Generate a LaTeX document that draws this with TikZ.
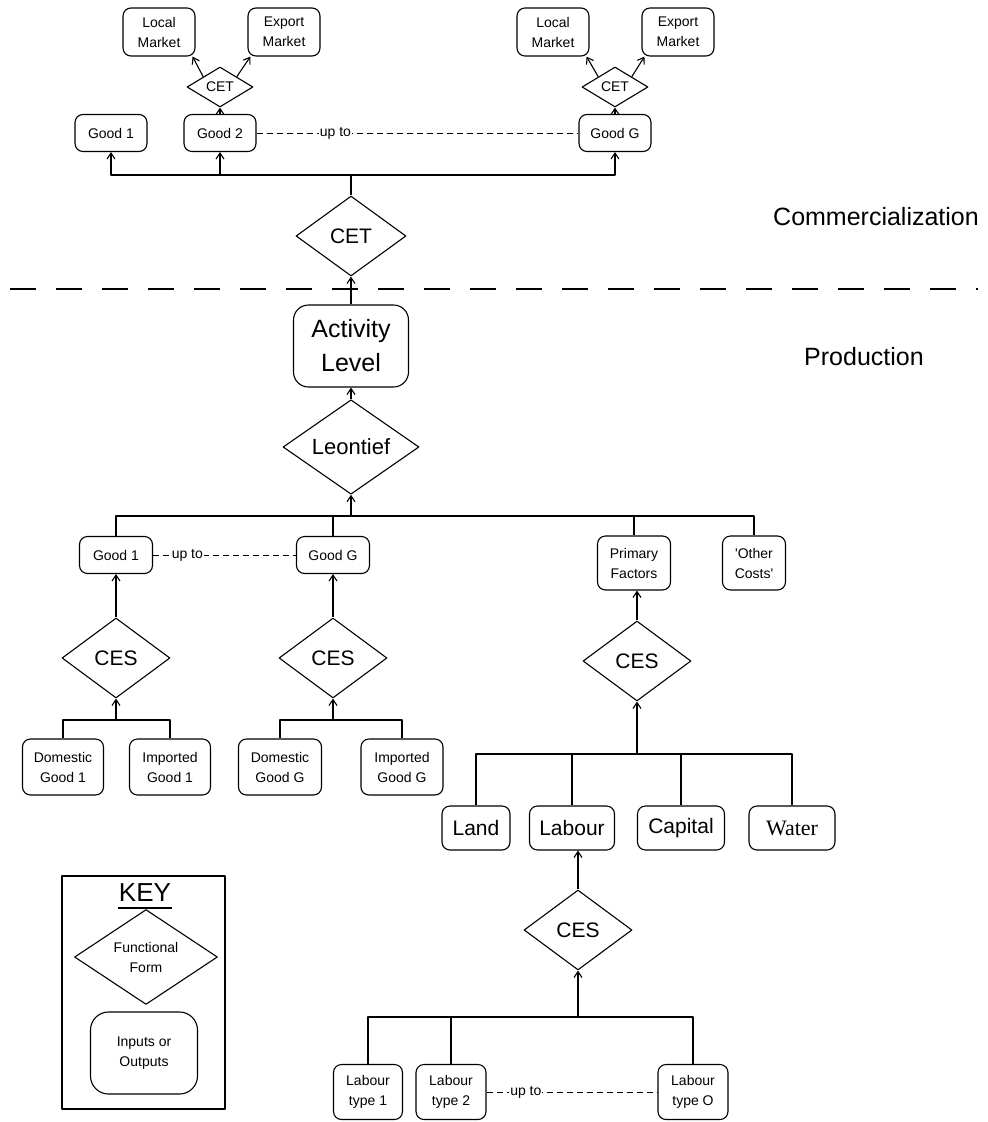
\documentclass[tikz,border=0pt]{standalone}
\usepackage{fontspec}
\setmainfont{Liberation Sans}
\newfontfamily\waterfont{Liberation Serif}
\usetikzlibrary{shapes.geometric,arrows.meta}

\begin{document}
\begin{tikzpicture}[x=1pt, y=-1pt, >={Straight Barb[length=6pt,width=8pt]},
                    line width=1.1pt, line join=round,
  box/.style={draw, rounded corners=8pt, align=center, inner sep=0pt,
              font=\fontsize{14}{20}\selectfont},
  form/.style={draw, diamond, align=center, inner sep=0pt,
               font=\fontsize{21}{24}\selectfont},
  bigfont/.style={font=\fontsize{21}{24}\selectfont},
  upto/.style={dash pattern=on 6pt off 4pt, line width=1pt},
  uptolabel/.style={fill=white, inner sep=1pt, font=\fontsize{14}{16}\selectfont}]
  \useasboundingbox (0,0) rectangle (988,1122);

  % Commercialization: goods and their markets
  \node[box, minimum width=72pt, minimum height=48pt] (lmA) at (159,32) {Local\\Market};
  \node[box, minimum width=72pt, minimum height=48pt] (emA) at (284,32) {Export\\Market};
  \node[box, minimum width=72pt, minimum height=48pt] (lmB) at (553,32) {Local\\Market};
  \node[box, minimum width=72pt, minimum height=48pt] (emB) at (678,32) {Export\\Market};
  \node[form, font=\fontsize{14}{16}\selectfont, minimum width=66pt, minimum height=40pt] (cetA) at (220,87) {CET};
  \node[form, font=\fontsize{14}{16}\selectfont, minimum width=66pt, minimum height=40pt] (cetB) at (615,87) {CET};
  \node[box, minimum width=72pt, minimum height=37pt] (gA1) at (111,133) {Good 1};
  \node[box, minimum width=72pt, minimum height=37pt] (gA2) at (220,133) {Good 2};
  \node[box, minimum width=72pt, minimum height=37pt] (gAG) at (615,133) {Good G};
  \node[form, minimum width=110pt, minimum height=80pt] (cet) at (351,236) {CET};

  \draw[->] (gA2) -- (cetA);
  \draw[->] (gAG) -- (cetB);
  \draw[->] (cetA.north west) -- ([xshift=-3pt]lmA.south east);
  \draw[->] (cetA.north east) -- ([xshift=3pt]emA.south west);
  \draw[->] (cetB.north west) -- ([xshift=-3pt]lmB.south east);
  \draw[->] (cetB.north east) -- ([xshift=3pt]emB.south west);

  \coordinate (busA) at (351,175);
  \draw (cet) -- (busA);
  \foreach \g in {gA1, gA2, gAG} \draw[->] (busA) -| (\g);
  \draw[upto] (gA2) -- node[uptolabel, pos=0.245] (uptoA) {up to} (gAG);

  % Section split
  \draw[dash pattern=on 26pt off 20pt] (10,289) -- (978,289);
  \node[font=\fontsize{25}{28}\selectfont] (comm) at (876,217) {Commercialization};
  \node[font=\fontsize{25}{28}\selectfont] (prod) at (864,357) {Production};

  % Production: top nest
  \node[box, rounded corners=15pt, font=\fontsize{25}{34}\selectfont,
        minimum width=115pt, minimum height=82pt] (act) at (351,346) {Activity\\Level};
  \node[form, font=\fontsize{22}{24}\selectfont, minimum width=136pt, minimum height=92pt] (leon) at (351,447) {Leontief};
  \draw[->] (act) -- (cet);
  \draw[->] (leon) -- (act);

  \node[box, minimum width=73pt, minimum height=37pt] (gB1) at (116,555) {Good 1};
  \node[box, minimum width=73pt, minimum height=37pt] (gBG) at (333,555) {Good G};
  \node[box, minimum width=73pt, minimum height=54pt] (pf) at (634,563) {Primary\\Factors};
  \node[box, minimum width=63pt, minimum height=54pt] (oc) at (754,563) {\textquotesingle Other\\Costs\textquotesingle};

  \coordinate (busB) at (351,516);
  \foreach \g in {gB1, gBG, pf, oc} \draw (\g) |- (busB);
  \draw[->] (busB) -- (leon);
  \draw[upto] (gB1) -- node[uptolabel, pos=0.24] (uptoB) {up to} (gBG);

  % Armington nests
  \node[form, minimum width=108pt, minimum height=80pt] (cesL) at (116,658) {CES};
  \node[form, minimum width=108pt, minimum height=80pt] (cesM) at (333,658) {CES};
  \node[form, minimum width=108pt, minimum height=80pt] (cesR) at (637,661) {CES};
  \draw[->] (cesL) -- (gB1);
  \draw[->] (cesM) -- (gBG);
  \draw[->] (cesR.north) -- (cesR.north |- pf.south);

  \node[box, minimum width=81pt, minimum height=56pt] (dg1) at (63,767) {Domestic\\Good 1};
  \node[box, minimum width=81pt, minimum height=56pt] (ig1) at (170,767) {Imported\\Good 1};
  \node[box, minimum width=83pt, minimum height=56pt] (dgG) at (280,767) {Domestic\\Good G};
  \node[box, minimum width=82pt, minimum height=56pt] (igG) at (402,767) {Imported\\Good G};

  \coordinate (busL) at (116,720);
  \coordinate (busM) at (333,720);
  \foreach \g in {dg1, ig1} \draw (\g) |- (busL);
  \foreach \g in {dgG, igG} \draw (\g) |- (busM);
  \draw[->] (busL) -- (cesL);
  \draw[->] (busM) -- (cesM);

  % Primary factors
  \node[box, bigfont, minimum width=68pt, minimum height=44pt] (land) at (476,828) {Land};
  \node[box, bigfont, minimum width=85pt, minimum height=44pt] (lab) at (572,828) {Labour};
  \node[box, bigfont, minimum width=87pt, minimum height=44pt] (cap) at (681,828) {Capital};
  \node[box, font=\waterfont\fontsize{22}{24}\selectfont,
        minimum width=86pt, minimum height=44pt] (wat) at (792,828) {Water};

  \coordinate (busR) at (637,754);
  \foreach \g in {land, lab, cap, wat} \draw (\g) |- (busR);
  \draw[->] (busR) -- (cesR);

  % Labour types
  \node[form, minimum width=108pt, minimum height=80pt] (cesB) at (578,930) {CES};
  \draw[->] (cesB.north) -- (cesB.north |- lab.south);

  \node[box, minimum width=69pt, minimum height=55pt] (lt1) at (368,1092) {Labour\\type 1};
  \node[box, minimum width=70pt, minimum height=55pt] (lt2) at (451,1092) {Labour\\type 2};
  \node[box, minimum width=70pt, minimum height=55pt] (ltO) at (693,1092) {Labour\\type O};

  \coordinate (busO) at (578,1017);
  \foreach \g in {lt1, lt2, ltO} \draw (\g) |- (busO);
  \draw[->] (busO) -- (cesB);
  \draw[upto] (lt2) -- node[uptolabel, pos=0.23] (uptoO) {up to} (ltO);

  % Key
  \node[draw, minimum width=163pt, minimum height=233pt] (key) at (143.5,992.5) {};
  \node[font=\fontsize{26}{28}\selectfont, inner sep=0pt] (keyttl) at (145,893) {KEY};
  \draw[line width=1.8pt] ([yshift=-6pt]keyttl.base west) -- ([yshift=-6pt]keyttl.base east);
  \node[form, font=\fontsize{14}{20}\selectfont, minimum width=143pt, minimum height=82pt] (keyff) at (146,957) {Functional\\Form};
  \node[box, rounded corners=18pt, minimum width=107pt, minimum height=82pt] (keyio) at (144,1053) {Inputs or\\Outputs};
\end{tikzpicture}
\end{document}
